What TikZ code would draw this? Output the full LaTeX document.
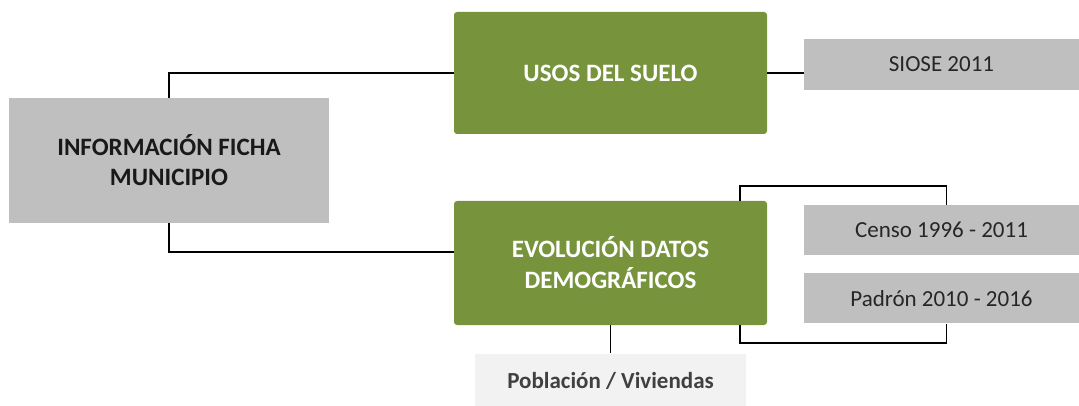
\documentclass[tikz,border=0pt]{standalone}
\usepackage{fontspec}
\setmainfont{Carlito}
\usetikzlibrary{positioning,calc}
\definecolor{fichagreen}{HTML}{77933C}
\definecolor{fichagray}{HTML}{BFBFBF}
\definecolor{fichalight}{HTML}{F2F2F2}

\begin{document}
\begin{tikzpicture}[
    x=1pt, y=-1pt,
    mainbox/.style={fill=fichagray, inner sep=0pt, align=center, text=black!90, font=\fontsize{25}{30}\selectfont\bfseries},
    topicbox/.style={fill=fichagreen, rounded corners=3pt, inner sep=0pt, align=center, text=white, font=\fontsize{25}{31}\selectfont\bfseries, minimum width=313pt},
    sourcebox/.style={fill=fichagray, inner sep=0pt, text=black!85, font=\fontsize{23}{27}\selectfont, minimum width=275pt, minimum height=50pt},
    varbox/.style={fill=fichalight, inner sep=0pt, text=black!75, font=\fontsize{23}{27}\selectfont\bfseries},
    link/.style={draw=black, line width=1.8pt}
  ]
    \useasboundingbox (0,0) rectangle (1079,406);

    \node (ficha) [mainbox, minimum width=320pt, minimum height=125pt] at (169,160.5) {INFORMACIÓN FICHA\\MUNICIPIO};

    \node (usos) [topicbox, minimum height=122pt] at (610.5,73) {USOS DEL SUELO};
    \node (evol) [topicbox, minimum height=124pt] at (610.5,263) {EVOLUCIÓN DATOS\\DEMOGRÁFICOS};

    \node (siose) [sourcebox, minimum height=51pt] at (941.5,64.5) {SIOSE 2011};
    \node (censo) [sourcebox] at (941.5,230) {Censo 1996 - 2011};
    \node (padron) [sourcebox, below=18pt of censo] {Padrón 2010 - 2016};

    \node (pobl) [varbox, minimum width=271pt, minimum height=55pt] at (610.5,381) {Población / Viviendas};

    % conectores
    \draw[link] (ficha.north) |- (usos.west);
    \draw[link] (ficha.south) |- ([yshift=11pt]evol.west);
    \draw[link] (usos.east) -- (usos.east -| siose.west);
    \draw[link] ([xshift=-27pt]evol.north east) |- ([xshift=5pt,yshift=19pt]censo.north) -- ([xshift=5pt]censo.north);
    \draw[link] ([xshift=-27pt]evol.south east) |- ([xshift=5pt,yshift=-19pt]padron.south) -- ([xshift=5pt]padron.south);
    \draw[link] (evol.south) -- (pobl.north);
\end{tikzpicture}
\end{document}
